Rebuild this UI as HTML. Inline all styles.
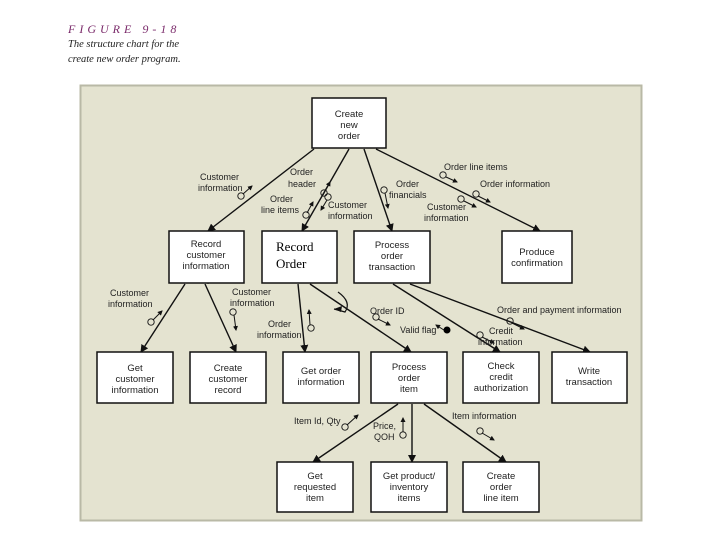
<!DOCTYPE html>
<html><head><style>
body{margin:0;background:#fff;}
svg{display:block;font-family:"Liberation Sans",Arial,sans-serif;}
</style></head><body>
<svg width="720" height="540" viewBox="0 0 720 540" xmlns="http://www.w3.org/2000/svg">
<defs>
<marker id="a" markerWidth="8" markerHeight="8" refX="7" refY="4" orient="auto" markerUnits="userSpaceOnUse"><path d="M0,0 L8,4 L0,8 z" fill="#111"/></marker>
<marker id="s" markerWidth="5" markerHeight="5" refX="4" refY="2.5" orient="auto" markerUnits="userSpaceOnUse"><path d="M0,0 L5,2.5 L0,5 z" fill="#111"/></marker>
</defs>
<text x="68" y="33" font-family="Liberation Serif,serif" font-style="italic" font-size="12" fill="#7a2a6a" letter-spacing="4">FIGURE 9-18</text>
<text x="68" y="47" font-family="Liberation Serif,serif" font-style="italic" font-size="10.5" fill="#222">The structure chart for the</text>
<text x="68" y="62" font-family="Liberation Serif,serif" font-style="italic" font-size="10.5" fill="#222">create new order program.</text>
<rect x="80.5" y="85.5" width="561" height="435" fill="#e4e3d0" stroke="#b9b9a6" stroke-width="2"/>
<g stroke="#111" stroke-width="1.4" fill="none" marker-end="url(#a)">
<line x1="314" y1="149" x2="208" y2="231"/>
<line x1="349" y1="149" x2="302" y2="231"/>
<line x1="364" y1="149" x2="392" y2="231"/>
<line x1="376" y1="149" x2="540" y2="231"/>
<line x1="185" y1="284" x2="141" y2="352"/>
<line x1="205" y1="284" x2="236" y2="352"/>
<line x1="298" y1="284" x2="305" y2="352"/>
<line x1="310" y1="284" x2="411" y2="352"/>
<line x1="393" y1="284" x2="500" y2="352"/>
<line x1="410" y1="284" x2="590" y2="352"/>
<line x1="398" y1="404" x2="313" y2="462"/>
<line x1="412" y1="404" x2="412" y2="462"/>
<line x1="424" y1="404" x2="506" y2="462"/>
</g>
<path d="M208,284 L220,276 L208,268 L196,276 Z" fill="#000"/>
<path d="M338,292 Q352,302 345,312 L334,309" fill="none" stroke="#111" stroke-width="1.2"/>
<path d="M334,309 L342,306 L341,312 z" fill="#111"/>
<g stroke="#111" stroke-width="1" fill="none" marker-end="url(#s)">
<line x1="243" y1="194" x2="252" y2="186"/>
<line x1="323" y1="195" x2="330" y2="182"/>
<line x1="307" y1="213" x2="313" y2="202"/>
<line x1="327" y1="200" x2="321" y2="210"/>
<line x1="385" y1="193" x2="388" y2="208"/>
<line x1="446" y1="177" x2="457" y2="182"/>
<line x1="478" y1="196" x2="490" y2="202"/>
<line x1="464" y1="201" x2="476" y2="207"/>
<line x1="153" y1="320" x2="162" y2="311"/>
<line x1="234" y1="315" x2="236" y2="330"/>
<line x1="310" y1="325" x2="309" y2="310"/>
<line x1="378" y1="319" x2="390" y2="325"/>
<line x1="447" y1="332" x2="436" y2="325"/>
<line x1="482" y1="337" x2="494" y2="343"/>
<line x1="512" y1="323" x2="524" y2="329"/>
<line x1="347" y1="425" x2="358" y2="415"/>
<line x1="403" y1="432" x2="403" y2="418"/>
<line x1="482" y1="433" x2="494" y2="440"/>
</g>
<g fill="none" stroke="#111" stroke-width="0.9">
<circle cx="241" cy="196" r="3.2"/><circle cx="324" cy="193" r="3.2"/><circle cx="306" cy="215" r="3.2"/><circle cx="328" cy="197" r="3.2"/>
<circle cx="384" cy="190" r="3.2"/><circle cx="443" cy="175" r="3.2"/><circle cx="476" cy="194" r="3.2"/><circle cx="461" cy="199" r="3.2"/>
<circle cx="151" cy="322" r="3.2"/><circle cx="233" cy="312" r="3.2"/><circle cx="311" cy="328" r="3.2"/><circle cx="376" cy="317" r="3.2"/>
<circle cx="480" cy="335" r="3.2"/><circle cx="510" cy="321" r="3.2"/><circle cx="345" cy="427" r="3.2"/><circle cx="403" cy="435" r="3.2"/><circle cx="480" cy="431" r="3.2"/>
</g>
<circle cx="447" cy="330" r="3.5" fill="#000"/>
<g fill="#fff" stroke="#111" stroke-width="1.5">
<rect x="312" y="98" width="74" height="50"/>
<rect x="169" y="231" width="75" height="52"/>
<rect x="262" y="231" width="75" height="52"/>
<rect x="354" y="231" width="76" height="52"/>
<rect x="502" y="231" width="70" height="52"/>
<rect x="97" y="352" width="76" height="51"/>
<rect x="190" y="352" width="76" height="51"/>
<rect x="283" y="352" width="76" height="51"/>
<rect x="371" y="352" width="76" height="51"/>
<rect x="463" y="352" width="76" height="51"/>
<rect x="552" y="352" width="75" height="51"/>
<rect x="277" y="462" width="76" height="50"/>
<rect x="371" y="462" width="76" height="50"/>
<rect x="463" y="462" width="76" height="50"/>
</g>
<g font-size="9.5" fill="#222" text-anchor="middle">
<text x="349" y="117">Create</text><text x="349" y="128">new</text><text x="349" y="139">order</text>
<text x="206" y="247">Record</text><text x="206" y="258">customer</text><text x="206" y="269">information</text>
<text x="392" y="248">Process</text><text x="392" y="259">order</text><text x="392" y="270">transaction</text>
<text x="537" y="255">Produce</text><text x="537" y="266">confirmation</text>
<text x="135" y="371">Get</text><text x="135" y="382">customer</text><text x="135" y="393">information</text>
<text x="228" y="371">Create</text><text x="228" y="382">customer</text><text x="228" y="393">record</text>
<text x="321" y="374">Get order</text><text x="321" y="385">information</text>
<text x="409" y="370">Process</text><text x="409" y="381">order</text><text x="409" y="392">item</text>
<text x="501" y="369">Check</text><text x="501" y="380">credit</text><text x="501" y="391">authorization</text>
<text x="589" y="374">Write</text><text x="589" y="385">transaction</text>
<text x="315" y="479">Get</text><text x="315" y="490">requested</text><text x="315" y="501">item</text>
<text x="409" y="479">Get product/</text><text x="409" y="490">inventory</text><text x="409" y="501">items</text>
<text x="501" y="479">Create</text><text x="501" y="490">order</text><text x="501" y="501">line item</text>
</g>
<text x="276" y="251" font-family="Liberation Serif,serif" font-size="13" fill="#000">Record</text>
<text x="276" y="268" font-family="Liberation Serif,serif" font-size="13" fill="#000">Order</text>
<g font-size="9" fill="#222">
<text x="200" y="180">Customer</text><text x="198" y="191">information</text>
<text x="290" y="175">Order</text><text x="288" y="187">header</text>
<text x="270" y="202">Order</text><text x="261" y="213">line items</text>
<text x="328" y="208">Customer</text><text x="328" y="219">information</text>
<text x="396" y="187">Order</text><text x="389" y="198">financials</text>
<text x="444" y="170">Order line items</text>
<text x="480" y="187">Order information</text>
<text x="427" y="210">Customer</text><text x="424" y="221">information</text>
<text x="110" y="296">Customer</text><text x="108" y="307">information</text>
<text x="232" y="295">Customer</text><text x="230" y="306">information</text>
<text x="268" y="327">Order</text><text x="257" y="338">information</text>
<text x="370" y="314">Order ID</text>
<text x="400" y="333">Valid flag</text>
<text x="489" y="334">Credit</text><text x="478" y="345">information</text>
<text x="497" y="313">Order and payment information</text>
<text x="294" y="424">Item Id, Qty</text>
<text x="373" y="429">Price,</text><text x="374" y="440">QOH</text>
<text x="452" y="419">Item information</text>
</g>
</svg>
</body></html>
